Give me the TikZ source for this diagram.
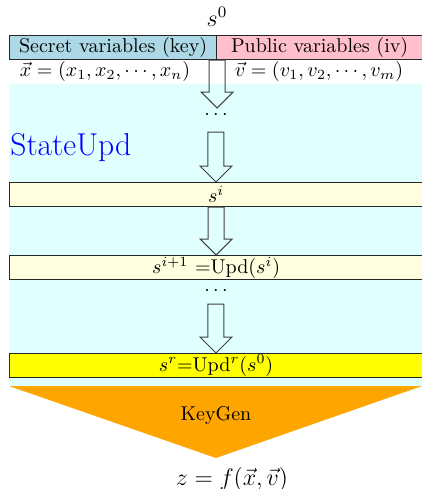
\documentclass[tikz,border=0pt]{standalone}
\usepackage[svgnames]{xcolor}
\usetikzlibrary{calc}
\tikzset{
  bar/.style={draw=black!85, line width=0.6pt, minimum height=12pt, inner sep=0pt, anchor=north west},
  arr/.style={draw=black!75, line width=0.5pt},
}
% hollow block arrow from #1 down to the tip #2
\newcommand\hollowarrow[2]{%
  \draw[arr] let \p1=(#1), \p2=(#2) in
    (\x1-4pt,\y1) -- (\x1-4pt,\y2+8pt) -- (\x1-8pt,\y2+8pt) -- (\x1,\y2)
    -- (\x1+8pt,\y2+8pt) -- (\x1+4pt,\y2+8pt) -- (\x1+4pt,\y1) -- cycle;}
\begin{document}
\begin{tikzpicture}[x=0.5pt,y=-0.5pt]
\useasboundingbox (0,0) rectangle (422,489);
% state-update region
\fill[LightCyan] (9,84) rectangle (422,386);
% initial state
\node (s0) at (217,17) {\large $s^0$};
\node[bar, fill=LightBlue, minimum width=103.5pt] (key) at (9,35) {Secret variables (key)};
\node[bar, fill=Pink, minimum width=103pt] (iv) at (216,35) {Public variables (iv)};
\node (xv) at (105,71) {$\vec{x}=(x_1,x_2,\cdots,x_n)$};
\node (vv) at (319,71) {$\vec{v}=(v_1,v_2,\cdots,v_m)$};
\node[text=Blue, font=\fontsize{15.8}{18}\selectfont, anchor=base west, inner sep=0pt] (upd) at (10,155) {StateUpd};
\node (d1) at (216,115) {$\cdots$};
\node (d2) at (216,291) {$\cdots$};
% intermediate states
\node[bar, fill=LightYellow, minimum width=206.5pt] (si) at (9,182) {$s^i$};
\node[bar, fill=LightYellow, minimum width=206.5pt] (si1) at (9,255) {$s^{i+1}$ =Upd($s^i$)};
\node[bar, fill=Yellow, minimum width=206.5pt] (sr) at (9,353) {$s^r$=Upd$^r$($s^0$)};
% key generation
\coordinate (kl) at (9,386);
\coordinate (kr) at (422,386);
\coordinate (kt) at (216,458);
\fill[Orange] (kl) -- (kr) -- (kt) -- cycle;
\node (kg) at (216,415) {KeyGen};
\node (z) at (232,479) {\large $z=f(\vec{x},\vec{v})$};
% update arrows
\coordinate (t2) at (216,132);
\coordinate (t4) at (216,304);
\hollowarrow{key.south east}{216,108}
\hollowarrow{t2}{si.north}
\hollowarrow{si.south}{si1.north}
\hollowarrow{t4}{sr.north}
\end{tikzpicture}
\end{document}
